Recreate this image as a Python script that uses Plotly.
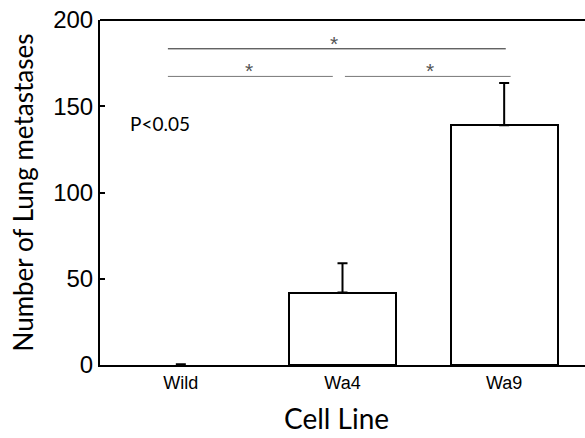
import plotly.graph_objects as go

categories = ["Wild", "Wa4", "Wa9"]
values = [0, 42, 139]
errors = [0.5, 17, 24.5]

# significance brackets: (x0, x1, y, star_x)
sig_x0 = [-0.08, -0.08, 1.015]
sig_x1 = [2.01, 0.94, 2.04]
sig_y = [183.3, 167.3, 167.3]
sig_star_x = [0.95, 0.42, 1.54]
sig_colors = ["#222222", "#777777", "#777777"]

fig = go.Figure()
fig.add_trace(go.Bar(
    x=[0, 1, 2], y=values,
    width=0.66,
    marker=dict(color="white", line=dict(color="black", width=[0, 2, 2])),
    error_y=dict(type="data", array=errors, symmetric=False, arrayminus=[0, 0, 0],
                 color="black", thickness=2, width=5),
    showlegend=False,
))

for x0, x1, y, sx, c in zip(sig_x0, sig_x1, sig_y, sig_star_x, sig_colors):
    fig.add_shape(type="line", x0=x0, x1=x1, y0=y, y1=y, xref="x", yref="y",
                  line=dict(color=c, width=1))
    fig.add_annotation(x=sx, y=y, text="*", showarrow=False, xref="x", yref="y",
                       yanchor="bottom", yshift=-8,
                       font=dict(family="Liberation Sans", size=21, color="#555555"))

fig.add_annotation(x=0.058, y=140, xref="paper", yref="y", text="P<0.05",
                   showarrow=False, xanchor="left",
                   font=dict(family="Lato", size=19, color="black"))

fig.add_annotation(x=0.487, y=-0.153, xref="paper", yref="paper", text="Cell Line",
                   showarrow=False, xanchor="center", yanchor="middle", borderpad=0,
                   font=dict(family="Lato", size=28, color="black"))

fig.update_layout(
    width=585, height=438,
    margin=dict(l=100, r=0, t=20, b=73),
    plot_bgcolor="white", paper_bgcolor="white",
    bargap=0,
    xaxis=dict(
        range=[-0.5, 2.5], tickmode="array", tickvals=[0, 1, 2], ticktext=categories,
        showline=True, linecolor="black", linewidth=2, mirror=False,
        ticks="", showgrid=False, zeroline=False,
        tickfont=dict(family="Liberation Sans", size=18, color="black"),
    ),
    yaxis=dict(
        range=[0, 200], tickvals=[0, 50, 100, 150, 200],
        showline=True, linecolor="black", linewidth=2, mirror=False,
        ticks="inside", ticklen=5, tickwidth=2, tickcolor="black",
        showgrid=False, zeroline=False,
        tickfont=dict(family="Liberation Sans", size=24, color="black"),
        title=dict(text="Number of Lung metastases", font=dict(family="Lato", size=26, color="black"), standoff=12),
    ),
)
fig.add_shape(type="line", xref="paper", yref="paper", x0=0, x1=1, y0=1, y1=1,
              line=dict(color="black", width=2))

fig.write_html("out.html")
